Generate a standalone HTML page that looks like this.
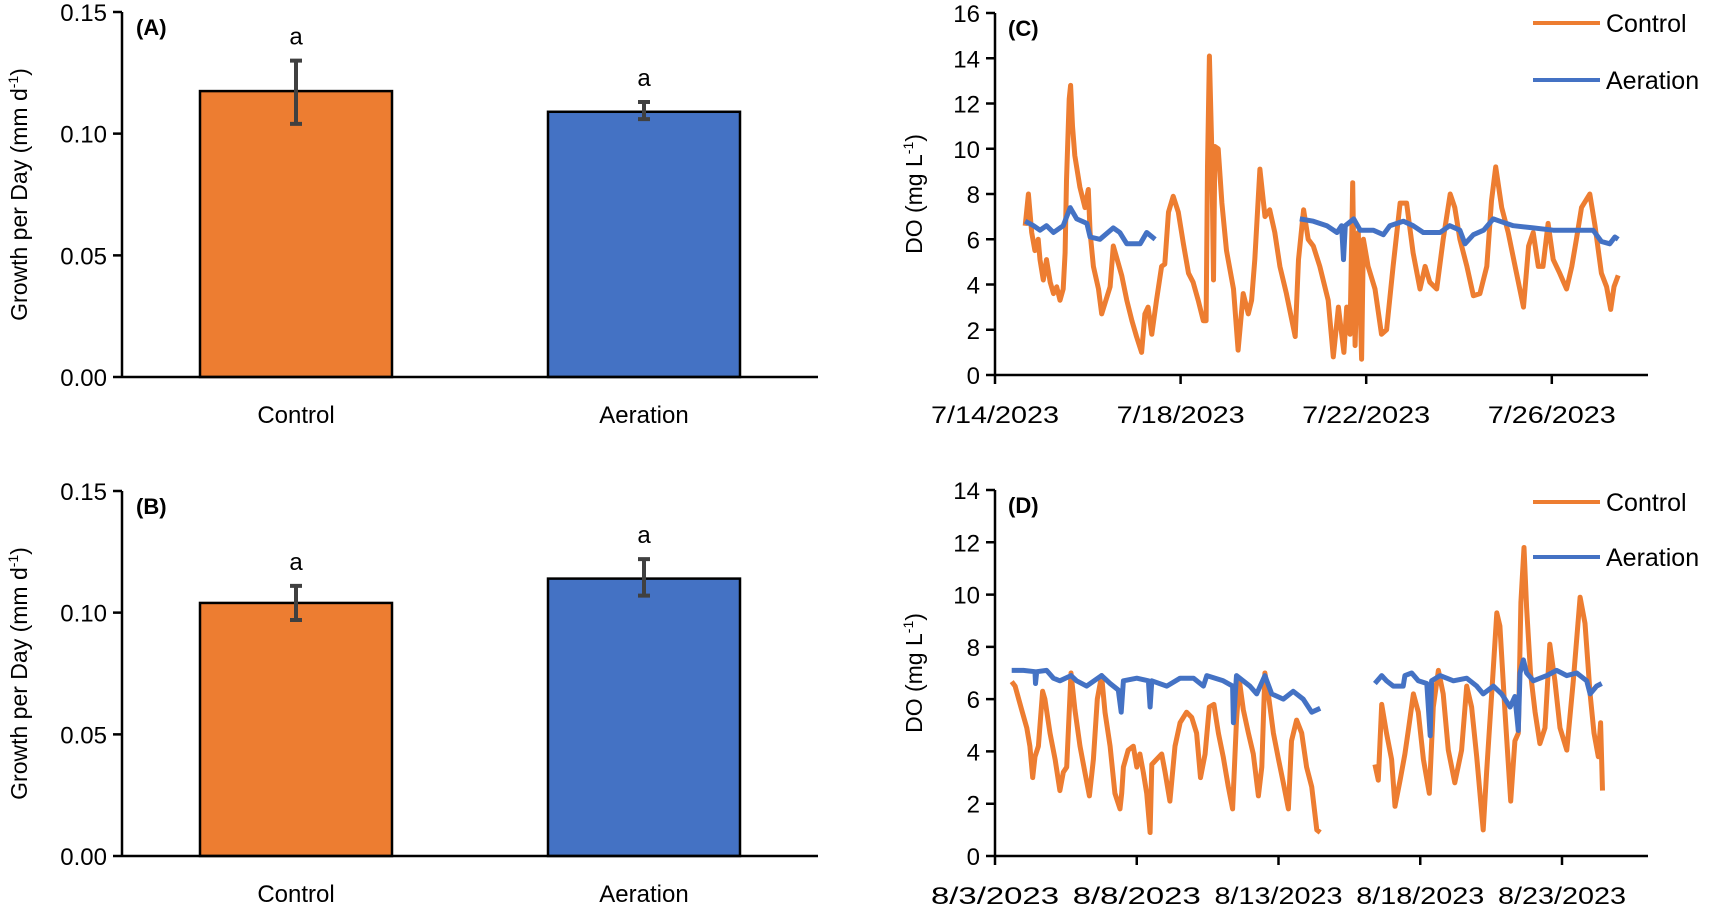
<!DOCTYPE html>
<html><head><meta charset="utf-8"><style>
html,body{margin:0;padding:0;background:#fff;}
svg{display:block;font-family:"Liberation Sans",Arial,sans-serif;}
</style></head><body>
<svg id="fig" width="1713" height="910" viewBox="0 0 1713 910" xmlns="http://www.w3.org/2000/svg"></svg>
<script>
// ---- Bar chart data ----
const barCategories = ["Control", "Aeration"];
const barValuesA = [0.1175, 0.109];
const barErrLowA = [0.104, 0.106];
const barErrHighA = [0.130, 0.113];
const barValuesB = [0.104, 0.114];
const barErrLowB = [0.097, 0.107];
const barErrHighB = [0.111, 0.122];
const barLetters = ["a", "a"];
const barTicks = [0, 0.05, 0.10, 0.15];
const barTickLabels = ["0.00", "0.05", "0.10", "0.15"];

// ---- Panel C data (day of July) ----
const cTickDays = [14, 18, 22, 26];
const cTickLabels = ["7/14/2023", "7/18/2023", "7/22/2023", "7/26/2023"];
const cYTicks = [0, 2, 4, 6, 8, 10, 12, 14, 16];
const cControlDays = [14.65,14.72,14.79,14.86,14.93,14.97,15.04,15.11,15.19,15.26,15.33,15.40,15.47,15.51,15.54,15.60,15.63,15.67,15.72,15.83,15.94,16.01,16.05,16.12,16.23,16.30,16.39,16.48,16.55,16.62,16.73,16.84,16.95,17.05,17.16,17.23,17.30,17.38,17.48,17.59,17.66,17.74,17.84,17.95,18.06,18.17,18.27,18.38,18.49,18.55,18.58,18.62,18.67,18.71,18.74,18.81,18.89,18.99,19.14,19.24,19.35,19.46,19.53,19.60,19.71,19.82,19.92,20.03,20.14,20.28,20.47,20.54,20.65,20.75,20.86,21.00,21.18,21.29,21.40,21.52,21.58,21.65,21.71,21.76,21.83,21.90,21.94,22.04,22.19,22.33,22.44,22.58,22.73,22.87,23.01,23.16,23.27,23.37,23.52,23.66,23.81,23.91,24.02,24.17,24.31,24.45,24.60,24.70,24.79,24.92,25.06,25.21,25.39,25.50,25.60,25.71,25.81,25.92,26.03,26.17,26.32,26.43,26.53,26.64,26.82,26.93,27.07,27.18,27.27,27.34,27.43];
const cControlVals = [6.6,8.0,6.3,5.5,6.0,5.1,4.2,5.1,4.1,3.6,3.9,3.3,3.8,5.4,8.6,12.2,12.8,11.0,9.7,8.3,7.4,8.2,6.3,4.8,3.8,2.7,3.3,3.9,5.7,5.2,4.4,3.3,2.4,1.7,1.0,2.7,3.0,1.8,3.3,4.8,4.9,7.2,7.9,7.2,5.8,4.5,4.1,3.3,2.4,2.4,9.2,14.1,10.1,4.2,10.1,10.0,7.6,5.5,3.8,1.1,3.6,2.7,3.3,5.1,9.1,7.0,7.3,6.3,4.8,3.6,1.7,5.1,7.3,6.0,5.7,4.8,3.3,0.8,3.0,1.0,3.0,1.8,8.5,1.3,6.3,0.7,6.0,4.8,3.8,1.8,2.0,4.8,7.6,7.6,5.4,3.8,4.8,4.1,3.8,6.0,8.0,7.4,6.0,4.8,3.5,3.6,4.8,7.7,9.2,7.4,6.3,4.8,3.0,5.7,6.3,4.8,4.8,6.7,5.1,4.5,3.8,4.8,6.0,7.4,8.0,6.6,4.5,3.9,2.9,3.9,4.4];
const cAerationDays = [14.65,14.83,14.97,15.11,15.26,15.47,15.62,15.76,15.98,16.05,16.26,16.55,16.69,16.84,17.13,17.27,17.45,null,20.57,20.86,21.15,21.37,21.47,21.51,21.55,21.73,21.87,22.15,22.37,22.51,22.80,23.01,23.23,23.59,23.80,24.02,24.13,24.31,24.53,24.74,24.88,25.17,25.60,26.03,26.60,26.89,27.07,27.25,27.36,27.43];
const cAerationVals = [6.8,6.6,6.4,6.6,6.3,6.6,7.4,6.9,6.7,6.1,6.0,6.5,6.3,5.8,5.8,6.3,6.0,null,6.9,6.8,6.6,6.3,6.6,5.1,6.6,6.9,6.4,6.4,6.2,6.6,6.8,6.6,6.3,6.3,6.6,6.4,5.8,6.2,6.4,6.9,6.8,6.6,6.5,6.4,6.4,6.4,5.9,5.8,6.1,6.0];

// ---- Panel D data (day of August) ----
const dTickDays = [3, 8, 13, 18, 23];
const dTickLabels = ["8/3/2023", "8/8/2023", "8/13/2023", "8/18/2023", "8/23/2023"];
const dYTicks = [0, 2, 4, 6, 8, 10, 12, 14];
const dControlDays = [3.59,3.71,3.94,4.12,4.23,4.33,4.41,4.53,4.68,4.76,4.94,5.12,5.29,5.41,5.53,5.68,5.82,6.0,6.17,6.33,6.47,6.61,6.76,6.88,7.06,7.23,7.41,7.47,7.53,7.70,7.88,8.0,8.11,8.23,8.35,8.47,8.53,8.70,8.88,9.0,9.17,9.35,9.53,9.76,9.94,10.11,10.25,10.41,10.56,10.72,10.88,11.05,11.23,11.38,11.52,11.62,11.76,11.94,12.11,12.29,12.41,12.52,12.64,12.82,13.0,13.17,13.35,13.46,13.64,13.82,13.99,14.17,14.35,14.47,null,16.40,16.52,16.64,16.81,16.99,17.11,17.29,17.46,17.58,17.76,17.93,18.11,18.32,18.46,18.64,18.81,18.99,19.22,19.46,19.64,19.81,19.99,20.22,20.34,20.52,20.70,20.81,20.99,21.19,21.34,21.46,21.55,21.66,21.75,21.89,22.05,22.22,22.40,22.57,22.75,22.93,23.17,23.40,23.64,23.81,23.99,24.13,24.28,24.36,24.43];
const dControlVals = [6.67,6.5,5.6,4.9,4.2,3.0,3.8,4.2,6.3,6.0,4.7,3.7,2.5,3.2,3.4,7.0,5.6,4.2,3.2,2.3,3.7,6.0,6.9,5.5,4.2,2.4,1.8,2.4,3.4,4.05,4.2,3.4,3.9,3.2,2.4,0.9,3.5,3.7,3.9,3.2,2.1,4.2,5.1,5.5,5.3,4.7,3.0,3.9,5.7,5.8,4.7,3.8,2.65,1.8,5.2,6.7,5.6,4.7,3.9,2.3,3.4,7.0,6.2,4.7,3.7,2.8,1.8,4.4,5.2,4.7,3.4,2.65,1.0,0.9,null,3.5,2.9,5.8,4.7,3.7,1.9,2.9,3.9,4.8,6.2,5.5,3.7,2.4,5.7,7.1,6.2,4.05,2.8,4.05,6.5,5.7,3.8,1.0,3.2,6.2,9.3,8.8,5.5,2.1,4.4,4.7,9.7,11.8,9.5,7.0,5.5,4.3,4.9,8.1,6.7,4.9,4.05,6.7,9.9,8.9,6.2,4.7,3.8,5.1,2.5];
const dAerationDays = [3.59,4.0,4.41,4.43,4.47,4.82,5.06,5.29,5.68,5.88,6.23,6.76,7.06,7.35,7.45,7.53,8.0,8.41,8.47,8.53,9.06,9.53,10.0,10.35,10.47,11.05,11.38,11.41,11.52,11.99,12.23,12.52,12.76,13.17,13.52,13.87,14.17,14.47,null,16.40,16.64,16.81,17.05,17.40,17.46,17.70,17.93,18.23,18.35,18.40,18.70,19.17,19.64,19.99,20.22,20.58,20.87,21.17,21.34,21.46,21.52,21.64,21.75,21.99,22.46,22.81,23.17,23.52,23.87,23.99,24.22,24.40];
const dAerationVals = [7.1,7.1,7.05,6.6,7.05,7.1,6.8,6.7,6.9,6.7,6.5,6.9,6.6,6.35,5.5,6.7,6.8,6.7,5.7,6.7,6.5,6.8,6.8,6.5,6.9,6.7,6.5,5.1,6.9,6.5,6.2,6.9,6.2,6.0,6.3,6.0,5.5,5.65,null,6.6,6.9,6.7,6.5,6.5,6.9,7.0,6.7,6.6,4.6,6.7,6.9,6.7,6.8,6.5,6.2,6.5,6.2,5.7,6.1,4.8,7.0,7.5,7.0,6.7,6.9,7.1,6.9,7.0,6.7,6.2,6.5,6.6];
</script>
<script>
const NS = "http://www.w3.org/2000/svg";
const svg = document.getElementById("fig");
const ORANGE = "#ED7D31", BLUE = "#4472C4";
function mk(tag, attrs, parent) {
  const e = document.createElementNS(NS, tag);
  for (const k in attrs) e.setAttribute(k, attrs[k]);
  (parent || svg).appendChild(e);
  return e;
}
function txt(s, attrs, parent) { const t = mk("text", attrs, parent); t.textContent = s; return t; }

function barPanel(id, top, zero, vals, lo, hi) {
  const g = mk("g", {});
  
  
  const x0 = 122, x1 = 818;
  const yS = v => zero - (v / 0.15) * (zero - top);
  const xC = i => x0 + (x1 - x0) * (i + 0.5) / barCategories.length;
  const bw = 192;
  vals.forEach((v, i) => {
    const r = mk("rect", {x: xC(i) - bw/2, y: yS(v), width: bw, height: zero - yS(v), fill: i === 0 ? ORANGE : BLUE, stroke: "#000", "stroke-width": 2.5}, g);
    
    
    const eb = mk("path", {d: `M${xC(i)} ${yS(hi[i])}V${yS(lo[i])}M${xC(i)-6} ${yS(hi[i])}H${xC(i)+6}M${xC(i)-6} ${yS(lo[i])}H${xC(i)+6}`, stroke: "#404040", "stroke-width": 4, fill: "none"}, g);
    
    
    const l = txt(barLetters[i], {x: xC(i), y: yS(hi[i]) - 16, "font-size": 24, "text-anchor": "middle"}, g);
    
    
    const c = txt(barCategories[i], {x: xC(i), y: zero + 46, "font-size": 24, "text-anchor": "middle"}, g);
    
    
  });
  const ax = mk("path", {d: `M${x0} ${top}V${zero}H${x1}M${x0-9} ${top}H${x0}M${x0-9} ${yS(0.05)}H${x0}M${x0-9} ${yS(0.10)}H${x0}M${x0-9} ${zero}H${x0}`, stroke: "#000", "stroke-width": 2.5, fill: "none"}, g);
  
  
  barTicks.forEach((t, i) => {
    const e = txt(barTickLabels[i], {x: x0 - 15, y: yS(t) + 9, "font-size": 24, "text-anchor": "end"}, g);
    
    
  });
  const yt = txt("Growth per Day (mm d", {transform: `translate(27 ${(top+zero)/2}) rotate(-90)`, "font-size": 23, "text-anchor": "middle"}, g);
  const sup = mk("tspan", {"font-size": 14, dy: -9}, yt); sup.textContent = "-1";
  const cl = mk("tspan", {dy: 9}, yt); cl.textContent = ")";
  
  
  const pl = txt(id, {x: 136, y: top + 23, "font-size": 22, "font-weight": "bold"}, g);
  
  
}
barPanel("(A)", 12, 377, barValuesA, barErrLowA, barErrHighA);
barPanel("(B)", 491, 856, barValuesB, barErrLowB, barErrHighB);

function linePanel(id, top, zero, ymax, yTicks, d0, pxDay, tickDays, tickLabels, series, legY) {
  const g = mk("g", {});
  
  
  const x0 = 995, x1 = 1648;
  const yS = v => zero - v / ymax * (zero - top);
  const xS = d => x0 + (d - d0) * pxDay;
  let ad = `M${x0} ${top}V${zero}H${x1}`;
  yTicks.forEach(t => { ad += `M${x0-9} ${yS(t)}H${x0}`; });
  tickDays.forEach(t => { ad += `M${xS(t)} ${zero}V${zero+9}`; });
  const ax = mk("path", {d: ad, stroke: "#000", "stroke-width": 2.5, fill: "none"}, g);
  
  
  yTicks.forEach(t => {
    const e = txt(String(t), {x: x0 - 15, y: yS(t) + 9, "font-size": 24, "text-anchor": "end"}, g);
    
    
  });
  tickDays.forEach((t, i) => {
    const e = txt(tickLabels[i], {x: xS(t), y: zero + 48, "font-size": 24, "text-anchor": "middle", textLength: 128, lengthAdjust: "spacingAndGlyphs"}, g);
    
    
  });
  const yt = txt("DO (mg L", {transform: `translate(922 ${(top+zero)/2}) rotate(-90)`, "font-size": 23, "text-anchor": "middle"}, g);
  const sup = mk("tspan", {"font-size": 14, dy: -9}, yt); sup.textContent = "-1";
  const cl = mk("tspan", {dy: 9}, yt); cl.textContent = ")";
  
  
  const pl = txt(id, {x: 1008, y: top + 23, "font-size": 22, "font-weight": "bold"}, g);
  
  
  series.forEach((s, si) => {
    let d = "", pen = false;
    s.days.forEach((dy, i) => {
      if (dy === null || s.vals[i] === null) { pen = false; return; }
      d += (pen ? "L" : "M") + xS(dy).toFixed(1) + " " + yS(s.vals[i]).toFixed(1);
      pen = true;
    });
    const p = mk("path", {d: d, stroke: s.color, "stroke-width": 5, fill: "none", "stroke-linejoin": "round"}, g);
    
    
    const ly = legY[si];
    const ll = mk("line", {x1: 1533, x2: 1600, y1: ly, y2: ly, stroke: s.color, "stroke-width": 4}, g);
    
    
    const lt = txt(s.name, {x: 1606, y: ly + 9, "font-size": 25}, g);
    
    
  });
}
linePanel("(C)", 13, 375, 16, cYTicks, 14, 46.4, cTickDays, cTickLabels,
  [{name: "Control", color: ORANGE, days: cControlDays, vals: cControlVals},
   {name: "Aeration", color: BLUE, days: cAerationDays, vals: cAerationVals}], [23, 80]);
linePanel("(D)", 490, 856, 14, dYTicks, 3, 28.35, dTickDays, dTickLabels,
  [{name: "Control", color: ORANGE, days: dControlDays, vals: dControlVals},
   {name: "Aeration", color: BLUE, days: dAerationDays, vals: dAerationVals}], [502, 557]);
</script>
</body></html>
